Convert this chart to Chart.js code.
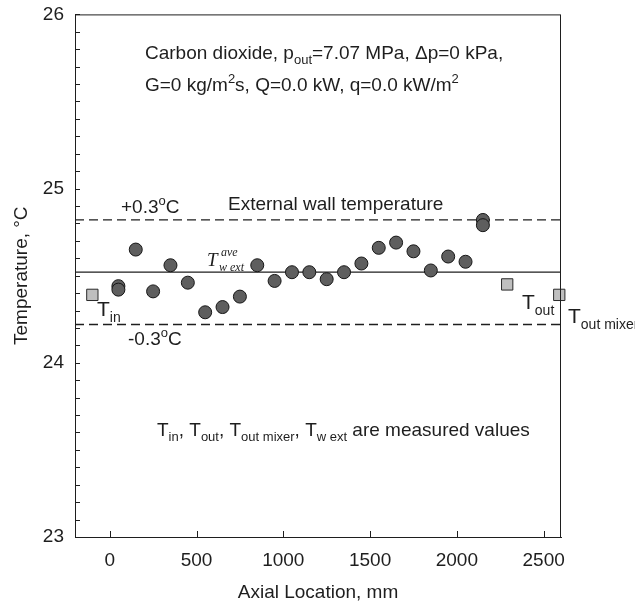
<!DOCTYPE html>
<html>
<head>
<meta charset="utf-8">
<script src="https://cdn.jsdelivr.net/npm/chart.js@4.4.1/dist/chart.umd.min.js"></script>
<style>
  html, body { margin: 0; padding: 0; background: #fff; }
  #chart { display: block; }
</style>
</head>
<body>
<canvas id="chart" width="635" height="605"></canvas>
<script>
// --- Data ---
const wallX = [50, 50, 150, 250, 350, 450, 550, 650, 750, 850, 950, 1050, 1150, 1250, 1350, 1450, 1550, 1650, 1750, 1850, 1950, 2050, 2150, 2150];
const wallT = [24.44, 24.42, 24.65, 24.41, 24.56, 24.46, 24.29, 24.32, 24.38, 24.56, 24.47, 24.52, 24.52, 24.48, 24.52, 24.57, 24.66, 24.69, 24.64, 24.53, 24.61, 24.58, 24.82, 24.79];

const fluidX = [-100, 2290, 2590];   // T_in, T_out, T_out mixer
const fluidT = [24.39, 24.45, 24.39];

const lineX = [-200, 2600];
const aveT = 24.52;
const bandT = 0.3;

const xTicks = [0, 500, 1000, 1500, 2000, 2500];
const yTicks = [23, 24, 25, 26];

const FONT = "'Liberation Sans', Arial, sans-serif";
const SERIF = "'Liberation Serif', 'Times New Roman', serif";
const INK = '#1e1e1e';

const toPts = (xs, ys) => xs.map((x, i) => ({ x, y: ys[i] }));
const flatLine = v => lineX.map(x => ({ x, y: v }));

// --- Rich text helper (sub / superscripts) ---
function drawRich(ctx, x, y, segs, size, family, style) {
  let cx = x;
  segs.forEach(s => {
    const small = s.sub || s.sup;
    const fs = small ? Math.round(size * 0.66) : size;
    ctx.font = `${style || ''} ${fs}px ${family}`;
    let dy = 0;
    if (s.sub) dy = size * 0.28;
    if (s.sup) dy = -size * 0.42;
    ctx.fillText(s.t, cx, y + dy);
    cx += ctx.measureText(s.t).width;
  });
  return cx;
}

// --- Frame, inside ticks and annotations ---
const overlay = {
  id: 'overlay',
  afterDraw(chart) {
    const { ctx, chartArea: a, scales: { x, y } } = chart;
    ctx.save();
    ctx.strokeStyle = INK;
    ctx.lineWidth = 1;
    ctx.strokeRect(a.left + 0.5, a.top + 0.5, a.right - a.left - 1, a.bottom - a.top);

    // inside tick marks
    ctx.beginPath();
    for (let v = 23; v <= 26.001; v += 0.1) {
      const py = Math.round(y.getPixelForValue(v)) + 0.5;
      ctx.moveTo(a.left, py);
      ctx.lineTo(a.left + 5, py);
    }
    xTicks.forEach(v => {
      const px = Math.round(x.getPixelForValue(v)) + 0.5;
      ctx.moveTo(px, a.bottom);
      ctx.lineTo(px, a.bottom - 6);
    });
    ctx.stroke();

    ctx.fillStyle = INK;
    ctx.textBaseline = 'alphabetic';
    ctx.textAlign = 'left';

    drawRich(ctx, 145, 59, [
      { t: 'Carbon dioxide, p' }, { t: 'out', sub: true },
      { t: '=7.07 MPa, \u0394p=0 kPa,' }
    ], 19, FONT);
    drawRich(ctx, 145, 91, [
      { t: 'G=0 kg/m' }, { t: '2', sup: true }, { t: 's, Q=0.0 kW, q=0.0 kW/m' }, { t: '2', sup: true }
    ], 19, FONT);

    drawRich(ctx, 228, 210, [{ t: 'External wall temperature' }], 19, FONT);
    drawRich(ctx, 121, 213, [{ t: '+0.3' }, { t: 'o', sup: true }, { t: 'C' }], 19, FONT);
    drawRich(ctx, 128, 345, [{ t: '-0.3' }, { t: 'o', sup: true }, { t: 'C' }], 19, FONT);

    // T_w ext^ave
    ctx.font = `italic 19px ${SERIF}`;
    ctx.fillText('T', 207, 266);
    ctx.font = `italic 12px ${SERIF}`;
    ctx.fillText('ave', 221, 256);
    ctx.fillText('w ext', 219, 271);

    drawRich(ctx, 97, 316, [{ t: 'T' }, { t: 'in', sub: true }], 21, FONT);
    drawRich(ctx, 522, 309, [{ t: 'T' }, { t: 'out', sub: true }], 21, FONT);
    drawRich(ctx, 568, 323, [{ t: 'T' }, { t: 'out mixer', sub: true }], 21, FONT);

    drawRich(ctx, 157, 436, [
      { t: 'T' }, { t: 'in', sub: true }, { t: ', T' }, { t: 'out', sub: true },
      { t: ', T' }, { t: 'out mixer', sub: true }, { t: ', T' }, { t: 'w ext', sub: true },
      { t: ' are measured values' }
    ], 19, FONT);
    ctx.restore();
  }
};

// --- Chart ---
new Chart(document.getElementById('chart'), {
  type: 'scatter',
  data: {
    datasets: [
      {
        label: 'T w ext',
        data: toPts(wallX, wallT),
        pointStyle: 'circle',
        pointRadius: 6.5,
        backgroundColor: '#5e5e5e',
        borderColor: '#161616',
        borderWidth: 1,
        clip: false,
      },
      {
        label: 'T fluid',
        data: toPts(fluidX, fluidT),
        pointStyle: 'rect',
        pointRadius: 8,
        backgroundColor: '#bfbfbf',
        borderColor: '#2a2a2a',
        borderWidth: 1,
        clip: false,
      },
      {
        type: 'line',
        label: 'ave',
        data: flatLine(aveT),
        borderColor: INK,
        borderWidth: 1.3,
        pointRadius: 0,
      },
      {
        type: 'line',
        label: '+0.3',
        data: flatLine(aveT + bandT),
        borderColor: INK,
        borderWidth: 1.3,
        borderDash: [9, 5],
        pointRadius: 0,
      },
      {
        type: 'line',
        label: '-0.3',
        data: flatLine(aveT - bandT),
        borderColor: INK,
        borderWidth: 1.3,
        borderDash: [9, 5],
        pointRadius: 0,
      },
    ],
  },
  options: {
    responsive: false,
    animation: false,
    devicePixelRatio: 1,
    layout: { padding: { top: 13, right: 74, left: 0, bottom: 0 } },
    plugins: {
      legend: { display: false },
      tooltip: { enabled: false },
    },
    scales: {
      x: {
        type: 'linear',
        min: -200,
        max: 2600,
        afterBuildTicks: s => { s.ticks = xTicks.map(v => ({ value: v })); },
        afterFit: s => { s.height = 68; },
        grid: { display: false },
        border: { display: true, color: INK, width: 1 },
        ticks: {
          color: INK,
          font: { family: FONT, size: 19 },
          padding: 4,
          maxRotation: 0,
          callback: v => String(v),
        },
        title: {
          display: true,
          text: 'Axial Location, mm',
          color: INK,
          font: { family: FONT, size: 19 },
          padding: { top: 0, bottom: 1 },
        },
      },
      y: {
        min: 23,
        max: 26,
        afterBuildTicks: s => { s.ticks = yTicks.map(v => ({ value: v })); },
        afterFit: s => { s.width = 75; },
        grid: { display: false },
        border: { display: true, color: INK, width: 1 },
        ticks: { color: INK, font: { family: FONT, size: 19 }, padding: 3 },
        title: {
          display: true,
          text: 'Temperature, \u00B0C',
          color: INK,
          font: { family: FONT, size: 19 },
          padding: { top: 10, bottom: 0 },
        },
      },
    },
  },
  plugins: [overlay],
});
</script>
</body>
</html>
